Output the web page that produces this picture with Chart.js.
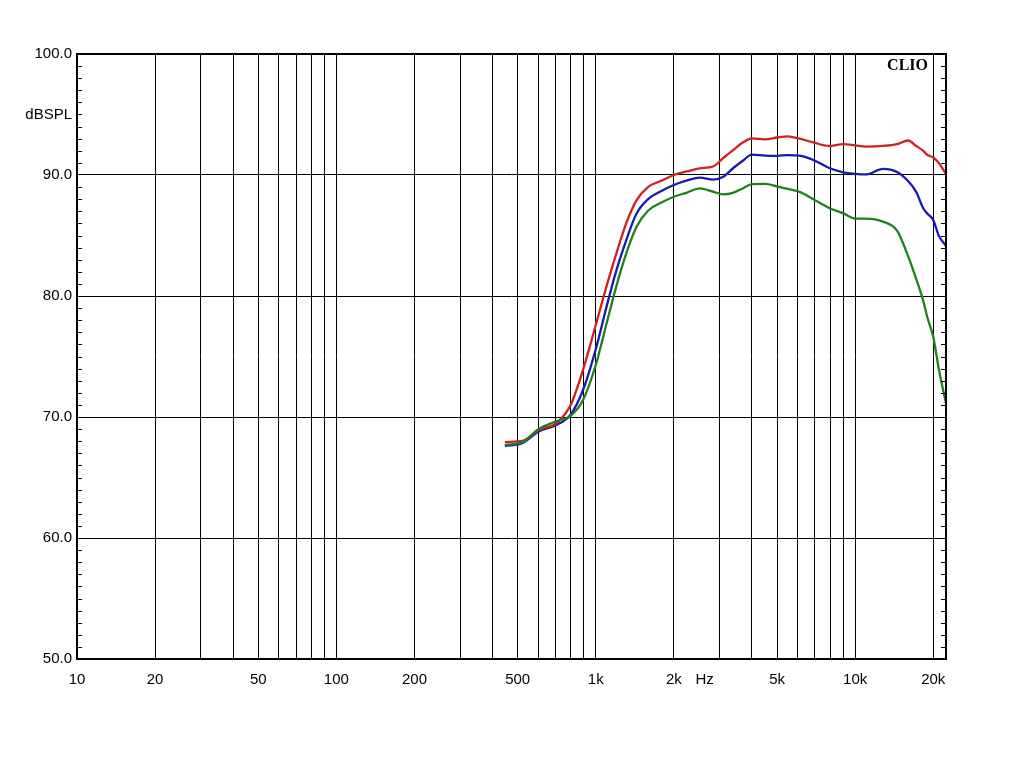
<!DOCTYPE html>
<html>
<head>
<meta charset="utf-8">
<script src="https://cdn.jsdelivr.net/npm/chart.js@4.4.1/dist/chart.umd.min.js"></script>
<style>
  html, body { margin: 0; padding: 0; background: #fff; }
  #wrap { width: 1024px; height: 768px; }
</style>
</head>
<body>
<div id="wrap"><canvas id="c" width="1024" height="768"></canvas></div>
<script>
// ---- data ----
const freqs = [446, 525, 600, 705, 800, 893, 1000, 1100, 1200, 1310, 1435, 1590, 1800, 2000, 2250, 2520, 2830, 3100, 3400, 3700, 4000, 4500, 5000, 5500, 6100, 6900, 7900, 9000, 10000, 11000, 12800, 14500, 16000, 17200, 18300, 19000, 20000, 21000, 22400];
const redDb = [67.93, 68.04, 68.9, 69.5, 71.0, 73.9, 77.6, 80.8, 83.5, 86.0, 87.9, 89.0, 89.55, 90.0, 90.3, 90.55, 90.7, 91.4, 92.1, 92.7, 93.03, 92.95, 93.1, 93.2, 93.0, 92.7, 92.4, 92.55, 92.45, 92.35, 92.4, 92.55, 92.85, 92.4, 92.0, 91.65, 91.45, 91.0, 90.1];
const blueDb = [67.6, 67.88, 68.79, 69.34, 70.2, 72.23, 75.6, 79.1, 82.1, 84.6, 86.8, 88.0, 88.7, 89.17, 89.55, 89.78, 89.62, 89.86, 90.6, 91.2, 91.68, 91.6, 91.58, 91.65, 91.6, 91.24, 90.6, 90.22, 90.1, 90.05, 90.5, 90.25, 89.5, 88.6, 87.25, 86.8, 86.28, 85.0, 84.13];
const greenDb = [67.7, 67.95, 68.98, 69.65, 70.1, 71.4, 74.3, 77.7, 80.8, 83.5, 85.7, 87.05, 87.75, 88.2, 88.55, 88.9, 88.62, 88.4, 88.55, 88.9, 89.25, 89.26, 89.05, 88.85, 88.6, 88.0, 87.3, 86.83, 86.4, 86.4, 86.15, 85.4, 83.3, 81.4, 79.6, 78.2, 76.64, 74.0, 71.13];

const xGridValues = [10,20,30,40,50,60,70,80,90,100,200,300,400,500,600,700,800,900,1000,2000,3000,4000,5000,6000,7000,8000,9000,10000,20000];
const xTickLabels = {10:'10', 20:'20', 50:'50', 100:'100', 200:'200', 500:'500', 1000:'1k', 2000:'2k', 5000:'5k', 10000:'10k', 20000:'20k'};
const hzLabelAt = 2630;
const yMajorLabels = {50:'50.0', 60:'60.0', 70:'70.0', 80:'80.0', 90:'90.0', 100:'100.0', 95:'dBSPL'};
const xMin = 10, xMax = 22400, yMin = 50, yMax = 100;

const toPts = arr => freqs.map((f, i) => ({x: f, y: arr[i]}));

const framePlugin = {
  id: 'frame',
  afterDraw(chart) {
    const {ctx, chartArea: a, scales} = chart;
    const ys = scales.y;
    ctx.save();
    ctx.strokeStyle = '#000';
    ctx.lineWidth = 1;
    ctx.beginPath();
    for (let v = yMin + 1; v < yMax; v++) {
      if (v % 10 === 0) continue;
      const y = Math.round(ys.getPixelForValue(v)) + 0.5;
      ctx.moveTo(a.left, y); ctx.lineTo(a.left + 5, y);
      ctx.moveTo(a.right - 5, y); ctx.lineTo(a.right, y);
    }
    ctx.stroke();
    ctx.lineWidth = 2;
    ctx.strokeRect(a.left, a.top, a.right - a.left, a.bottom - a.top);
    ctx.fillStyle = '#000';
    ctx.font = 'bold 16px "Liberation Serif", "DejaVu Serif", serif';
    ctx.textAlign = 'right';
    ctx.textBaseline = 'middle';
    ctx.fillText('CLIO', a.right - 18, a.top + 12);
    ctx.restore();
  }
};

const lineStyle = {borderWidth: 2.3, pointRadius: 0, cubicInterpolationMode: 'monotone', fill: false};

new Chart(document.getElementById('c'), {
  type: 'line',
  data: {
    datasets: [
      Object.assign({label: 'green', data: toPts(greenDb), borderColor: '#1f8020'}, lineStyle),
      Object.assign({label: 'red', data: toPts(redDb), borderColor: '#d02020'}, lineStyle),
      Object.assign({label: 'blue', data: toPts(blueDb), borderColor: '#1a1ab0'}, lineStyle)
    ]
  },
  options: {
    responsive: false,
    animation: false,
    devicePixelRatio: 1,
    layout: {padding: {left: 0, top: 54, right: 78, bottom: 69}},
    plugins: {legend: {display: false}, tooltip: {enabled: false}},
    scales: {
      x: {
        type: 'logarithmic',
        min: xMin, max: xMax,
        afterFit: s => { s.height = 40; },
        afterBuildTicks: s => { s.ticks = xGridValues.concat([hzLabelAt]).map(v => ({value: v})); },
        grid: {
          color: c => (c.tick && c.tick.value === hzLabelAt) ? 'rgba(0,0,0,0)' : '#000',
          lineWidth: 1, drawTicks: false
        },
        border: {display: false},
        ticks: {
          autoSkip: false, maxRotation: 0, minRotation: 0, padding: 12,
          color: '#000',
          font: {family: '"Liberation Sans", Arial, sans-serif', size: 15},
          callback: v => v === hzLabelAt ? 'Hz' : (xTickLabels[v] || '')
        }
      },
      y: {
        type: 'linear',
        min: yMin, max: yMax,
        afterFit: s => { s.width = 77; },
        afterBuildTicks: s => { const t = []; for (let v = yMin; v <= yMax; v += 5) t.push({value: v}); s.ticks = t; },
        grid: {
          color: c => (c.tick && c.tick.value % 10 === 0) ? '#000' : 'rgba(0,0,0,0)',
          lineWidth: 1, drawTicks: false
        },
        border: {display: false},
        ticks: {
          autoSkip: false, padding: 5,
          color: '#000',
          font: {family: '"Liberation Sans", Arial, sans-serif', size: 15},
          callback: v => yMajorLabels[v] || ''
        }
      }
    }
  },
  plugins: [framePlugin]
});
</script>
</body>
</html>
